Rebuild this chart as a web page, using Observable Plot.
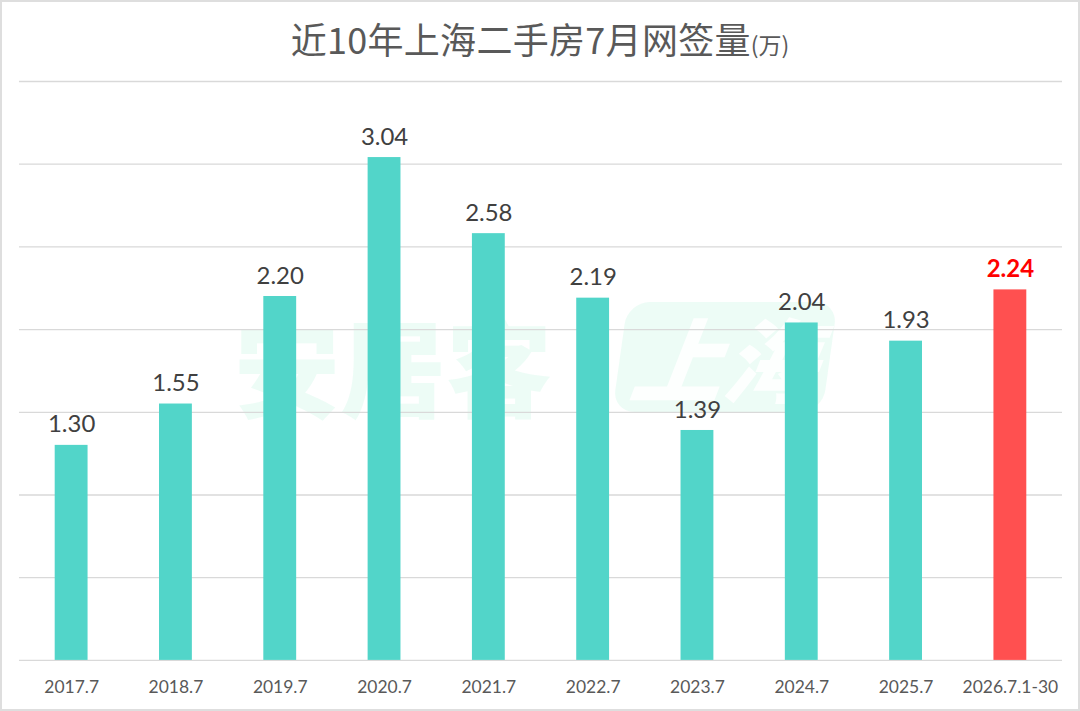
<!DOCTYPE html>
<html>
<head>
<meta charset="utf-8">
<script src="https://cdn.jsdelivr.net/npm/d3@7"></script>
<script src="https://cdn.jsdelivr.net/npm/@observablehq/plot@0.6"></script>
<style>
  html, body { margin: 0; padding: 0; background: #fff; }
  #wrap { position: relative; width: 1080px; height: 711px; box-sizing: border-box; border: 2px solid #dedede; overflow: hidden; background: #fff; }
  #title { position: absolute; left: 0; top: 0; width: 1076px; height: 68px; text-align: center; line-height: 72px;
    font-family: "Noto Sans CJK SC", sans-serif; font-size: 36px; color: #595959; letter-spacing: 0.3px; }
  #title small { font-size: 23px; letter-spacing: 0; }
  #wm { position: absolute; left: 232px; top: 284px; font-family: "Noto Sans CJK SC", sans-serif; font-weight: 900;
    font-size: 106px; color: rgba(90, 225, 170, 0.11); white-space: nowrap; z-index: 0; }
  #wm2 { position: absolute; left: 618px; top: 300px; width: 210px; height: 110px; border-radius: 22px;
    background: rgba(90, 225, 170, 0.11); transform: skewX(-8deg); z-index: 0;
    font-family: "Noto Sans CJK SC", sans-serif; font-weight: 900; font-style: italic; font-size: 92px;
    color: rgba(255,255,255,0.85); text-align: center; line-height: 108px; }
  #chart { position: absolute; left: -2px; top: 68px; z-index: 1; }
</style>
</head>
<body>
<div id="wrap">
  <div id="title">近10年上海二手房7月网签量<small>(万)</small></div>
  <div id="wm">安居客</div>
  <div id="wm2">上海</div>
  <div id="chart"></div>
</div>
<script>
const periods = ["2017.7", "2018.7", "2019.7", "2020.7", "2021.7", "2022.7", "2023.7", "2024.7", "2025.7", "2026.7.1-30"];
const values = [1.30, 1.55, 2.20, 3.04, 2.58, 2.19, 1.39, 2.04, 1.93, 2.24];
const highlighted = ["2026.7.1-30"];
const gridTicks = [0, 0.5, 1, 1.5, 2, 2.5, 3, 3.5];

const data = periods.map((p, i) => ({period: p, value: values[i], hl: highlighted.includes(p)}));

const chart = Plot.plot({
  width: 1080,
  height: 643,
  marginTop: 11,
  marginBottom: 52,
  marginLeft: 19,
  marginRight: 16,
  style: {background: "transparent", fontFamily: "Lato, 'Open Sans', sans-serif"},
  x: {domain: periods, paddingInner: 0.685, paddingOuter: 0.3425, round: false, label: null},
  y: {domain: [0, 3.5], label: null, axis: null},
  marks: [
    Plot.ruleY(gridTicks, {stroke: "#d9d9d9", strokeWidth: 1.3}),
    Plot.barY(data.filter(d => !d.hl), {x: "period", y: "value", fill: "#52d5c9"}),
    Plot.barY(data.filter(d => d.hl), {x: "period", y: "value", fill: "#ff5050"}),
    Plot.text(data.filter(d => !d.hl), {x: "period", y: "value", text: d => d.value.toFixed(2),
      lineAnchor: "bottom", dy: -13, fontSize: 24, fill: "#404040"}),
    Plot.text(data.filter(d => d.hl), {x: "period", y: "value", text: d => d.value.toFixed(2),
      lineAnchor: "bottom", dy: -13, fontSize: 24, fontWeight: "bold", fill: "#ff0000"}),
    Plot.axisX({tickSize: 0, tickPadding: 20, fontSize: 17.5, color: "#595959", label: null})
  ]
});
document.getElementById("chart").appendChild(chart);
</script>
</body>
</html>
